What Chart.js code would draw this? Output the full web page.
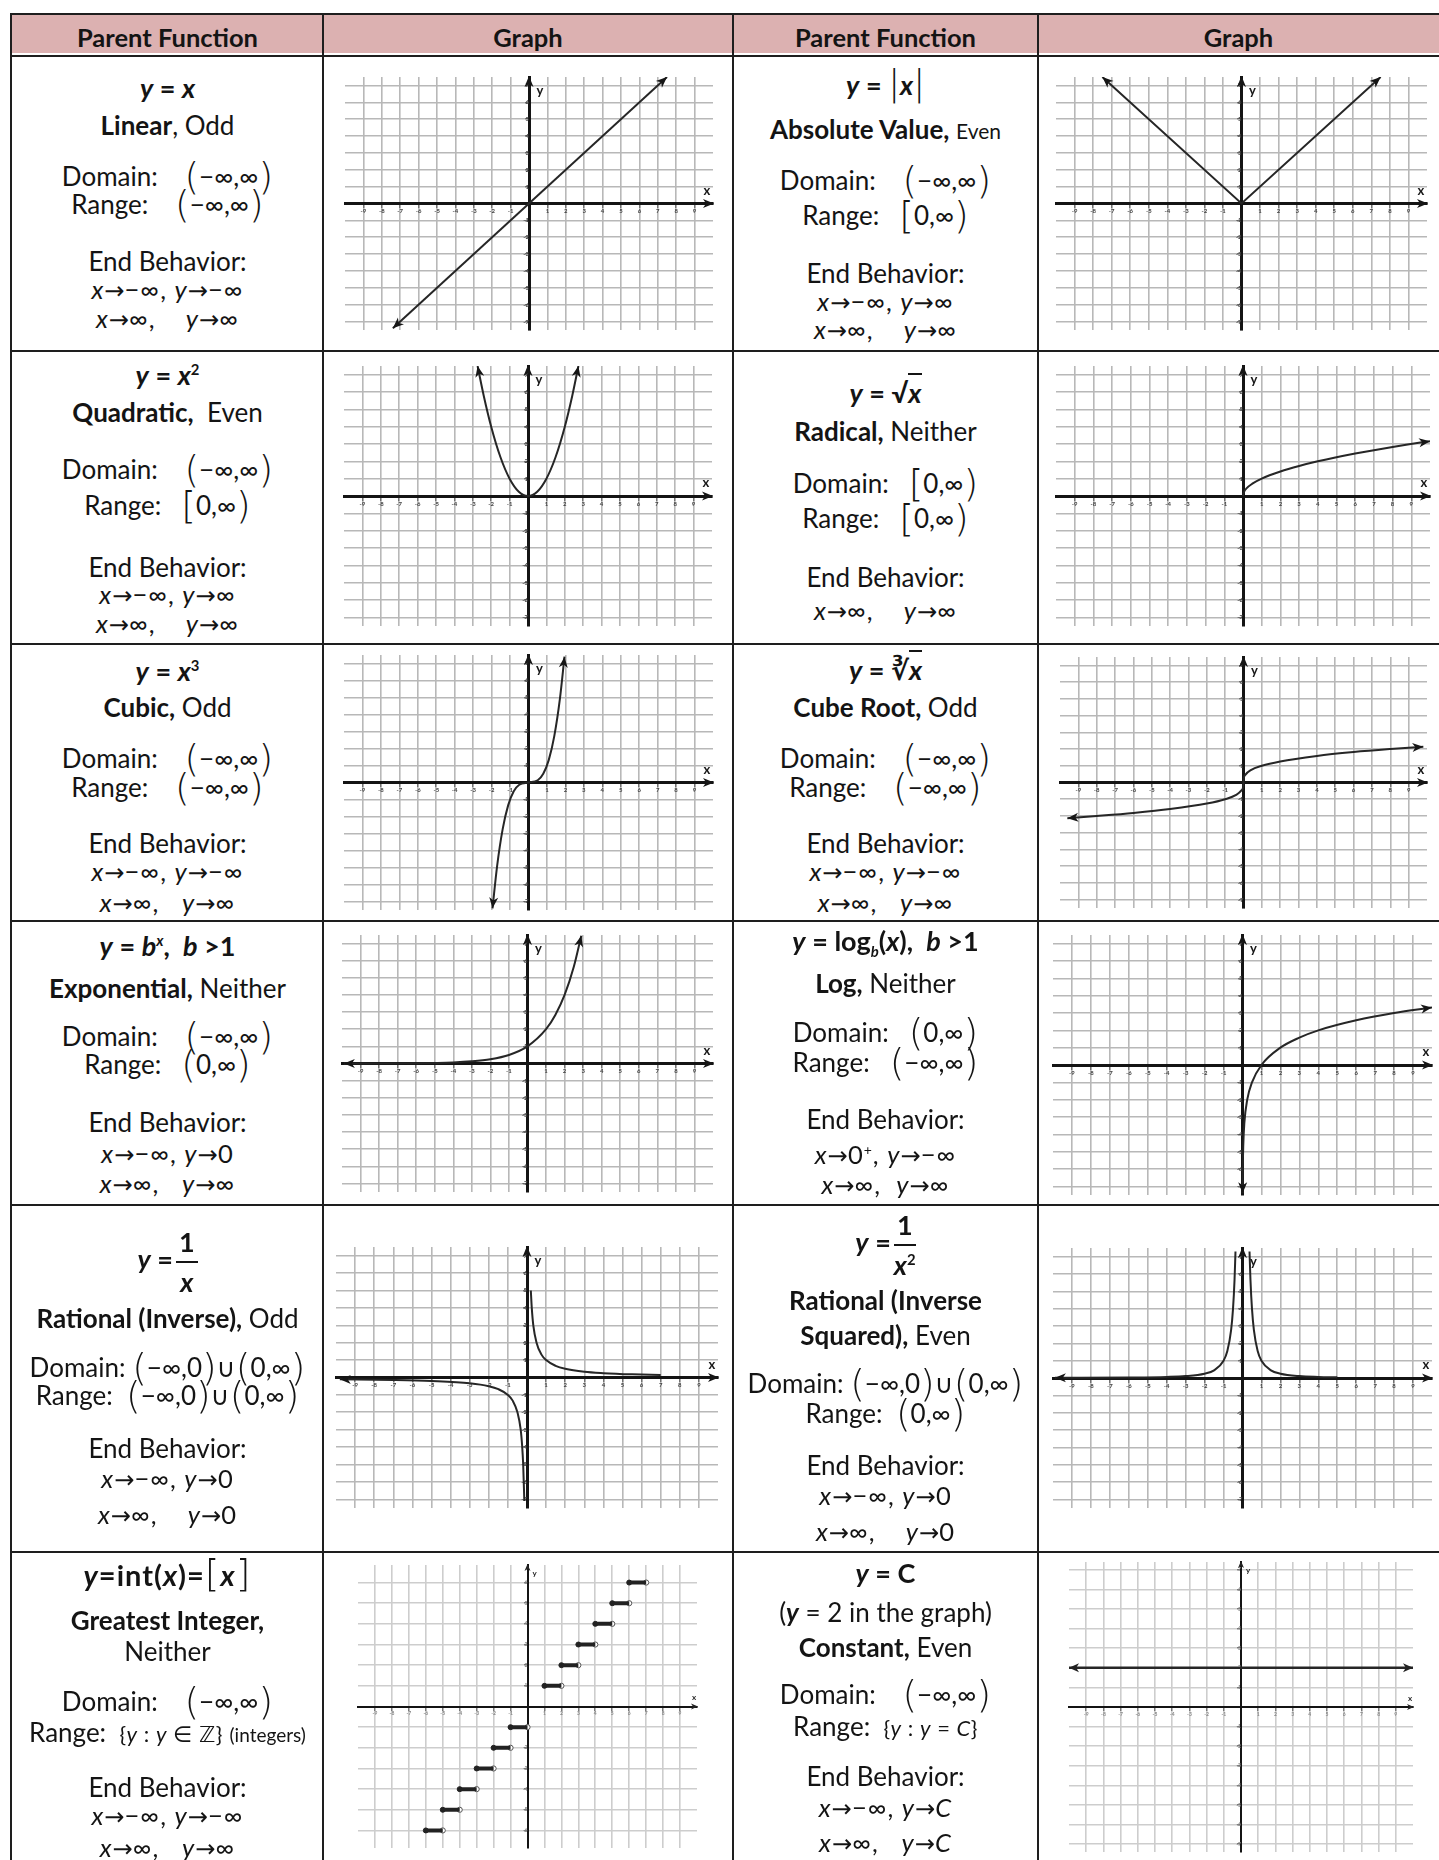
<!DOCTYPE html>
<html><head><meta charset="utf-8">
<script src="https://cdn.jsdelivr.net/npm/chart.js@4.4.1/dist/chart.umd.min.js"></script>
<style>
html,body{margin:0;padding:0;background:#fff;}
body{width:1439px;height:1860px;position:relative;overflow:hidden;font-family:Lato,"Open Sans","DejaVu Sans",sans-serif;color:#141414;}
.hdr{position:absolute;top:15px;height:38px;left:11px;width:1428px;background:#dcb1b1;}
.ht{position:absolute;top:17px;height:40px;line-height:40px;text-align:center;font-weight:bold;font-size:25.5px;z-index:3;}
.hl{position:absolute;background:#1e1e1e;height:2px;left:10px;width:1429px;z-index:5;}
.vl{position:absolute;background:#1e1e1e;width:2px;top:13px;height:1847px;z-index:5;}
.ln{position:absolute;text-align:center;white-space:nowrap;height:34px;line-height:34px;font-size:26px;z-index:3;}
.eq{font-weight:bold;font-size:27px;}
.eq2{font-weight:bold;font-size:29px;letter-spacing:1px;}
.eb{font-size:25.5px;letter-spacing:1px;}
.ar{font-family:"DejaVu Sans",sans-serif;font-size:0.95em;font-style:normal;letter-spacing:0;}
.pp{font-family:"DejaVu Sans",sans-serif;font-weight:200;font-size:1.45em;line-height:0;position:relative;top:0.07em;}
.sm{font-size:21px;}
.sm2{font-size:22px;letter-spacing:0.5px;}
.sm3{font-size:19px;}
.bar{font-weight:300;font-size:1.3em;line-height:0;font-family:"DejaVu Sans",sans-serif;}
.ov{border-top:2px solid #141414;padding-top:1px;}
.frac{display:inline-block;vertical-align:middle;text-align:center;margin-left:3px;}
.fn{display:block;border-bottom:2px solid #141414;line-height:26px;padding:0 3px 6px;}
.fd{display:block;line-height:26px;padding-top:6px;}
sup,sub{font-size:0.55em;line-height:0;}
canvas{position:absolute;z-index:2;}
</style>
</head><body>
<div class="hdr"></div>
<script>
// ---------------- DATA ----------------
const tickX  = [-9,-8,-7,-6,-5,-4,-3,-2,-1,0,1,2,3,4,5,6,7,8,9];
const tickY7 = [-7,-6,-5,-4,-3,-2,-1,0,1,2,3,4,5,6,7];
const tickY6 = [-6,-5,-4,-3,-2,-1,0,1,2,3,4,5,6];

const linearPts = [[-7.4,-7.4],[7.5,7.5]];
const absPts    = [[-7.5,7.5],[0,0],[7.5,7.5]];
const quadPts   = [[-2.74,7.5],[-2.4,5.76],[-2,4],[-1.5,2.25],[-1,1],[-0.5,0.25],[0,0],[0.5,0.25],[1,1],[1.5,2.25],[2,4],[2.4,5.76],[2.74,7.5]];
const sqrtPts   = [[0,0],[0.05,0.22],[0.2,0.45],[0.5,0.71],[1,1],[2,1.41],[3,1.73],[4,2],[6,2.45],[8,2.83],[9.4,3.07],[10,3.16]];
const cubicPts  = [[-1.95,-7.4],[-1.7,-4.9],[-1.4,-2.74],[-1.1,-1.33],[-0.8,-0.51],[-0.5,-0.13],[0,0],[0.5,0.13],[0.8,0.51],[1.1,1.33],[1.4,2.74],[1.7,4.9],[1.95,7.4]];
const cbrtPts   = [[-9.6,-2.13],[-8,-2],[-6,-1.82],[-4,-1.59],[-2,-1.26],[-1,-1],[-0.4,-0.74],[-0.1,-0.46],[-0.02,-0.27],[0,0],[0.02,0.27],[0.1,0.46],[0.4,0.74],[1,1],[2,1.26],[4,1.59],[6,1.82],[8,2],[9.8,2.14]];
const expPts    = [[-9.9,0.002],[-6,0.016],[-4,0.06],[-3,0.125],[-2,0.25],[-1,0.5],[0,1],[1,2],[1.5,2.83],[2,4],[2.5,5.66],[2.9,7.46]];
const logPts    = [[0.006,-7.4],[0.015,-6.06],[0.04,-4.64],[0.1,-3.32],[0.25,-2],[0.5,-1],[1,0],[2,1],[3,1.58],[4,2],[6,2.58],[8,3],[10,3.32]];
const invNegPts = [[-9.8,-0.1],[-7,-0.14],[-5,-0.2],[-3,-0.33],[-2,-0.5],[-1.5,-0.67],[-1,-1],[-0.75,-1.33],[-0.5,-2],[-0.33,-3],[-0.25,-4],[-0.2,-5],[-0.14,-7.1]];
const invPosPts = [[0.2,5],[0.25,4],[0.33,3],[0.5,2],[0.75,1.33],[1,1],[1.5,0.67],[2,0.5],[3,0.33],[4,0.25],[5.5,0.18],[7,0.14]];
const invSqLeft = [[-9.9,0.01],[-6,0.03],[-4,0.0625],[-3,0.11],[-2,0.25],[-1.5,0.44],[-1,1],[-0.8,1.56],[-0.6,2.78],[-0.5,4],[-0.42,5.67],[-0.37,7.3]];
const invSqRight= [[0.37,7.3],[0.42,5.67],[0.5,4],[0.6,2.78],[0.8,1.56],[1,1],[1.5,0.44],[2,0.25],[3,0.11],[4,0.0625],[5,0.04]];
const stepLevels = [-6,-5,-4,-3,-2,-1,1,2,3,4,5,6];
const constPts  = [[-10,2],[10,2]];

// ---------------- TEXT ----------------
const A = '<span class="ar">→</span>';
const P = s => `<span class="pp">${s}</span>`;
const headers = [['Parent Function',12,311],['Graph',323,410],['Parent Function',733,305],['Graph',1038,401]];
const textLines = [
 [0,88,'eq','<i>y</i> = <i>x</i>'],
 [0,125,'','<b>Linear</b>, Odd'],
 [0,176,'',`Domain:&nbsp;&nbsp;&nbsp; ${P('(')}−∞,∞${P(')')}`],
 [0,204,'',`Range:&nbsp;&nbsp;&nbsp; ${P('(')}−∞,∞${P(')')}`],
 [0,261,'','End Behavior:'],
 [0,289,'eb',`<i>x</i>${A}−∞, <i>y</i>${A}−∞`],
 [0,318,'eb',`<i>x</i>${A}∞,&nbsp;&nbsp;&nbsp; <i>y</i>${A}∞`],

 [1,85,'eq','<i>y</i> = <span class="bar">|</span><i>x</i><span class="bar">|</span>'],
 [1,129,'','<b>Absolute Value,</b> <span class="sm">Even</span>'],
 [1,180,'',`Domain:&nbsp;&nbsp;&nbsp; ${P('(')}−∞,∞${P(')')}`],
 [1,215,'',`Range:&nbsp;&nbsp; ${P('[')}0,∞${P(')')}`],
 [1,273,'','End Behavior:'],
 [1,301,'eb',`<i>x</i>${A}−∞, <i>y</i>${A}∞`],
 [1,329,'eb',`<i>x</i>${A}∞,&nbsp;&nbsp;&nbsp; <i>y</i>${A}∞`],

 [0,375,'eq','<i>y</i> = <i>x</i><sup>2</sup>'],
 [0,412,'','<b>Quadratic,</b>&nbsp; Even'],
 [0,469,'',`Domain:&nbsp;&nbsp;&nbsp; ${P('(')}−∞,∞${P(')')}`],
 [0,505,'',`Range:&nbsp;&nbsp; ${P('[')}0,∞${P(')')}`],
 [0,567,'','End Behavior:'],
 [0,594,'eb',`<i>x</i>${A}−∞, <i>y</i>${A}∞`],
 [0,623,'eb',`<i>x</i>${A}∞,&nbsp;&nbsp;&nbsp; <i>y</i>${A}∞`],

 [1,393,'eq','<i>y</i> = √<span class="ov"><i>x</i></span>'],
 [1,431,'','<b>Radical,</b> Neither'],
 [1,483,'',`Domain:&nbsp;&nbsp; ${P('[')}0,∞${P(')')}`],
 [1,518,'',`Range:&nbsp;&nbsp; ${P('[')}0,∞${P(')')}`],
 [1,577,'','End Behavior:'],
 [1,610,'eb',`<i>x</i>${A}∞,&nbsp;&nbsp;&nbsp; <i>y</i>${A}∞`],

 [0,671,'eq','<i>y</i> = <i>x</i><sup>3</sup>'],
 [0,707,'','<b>Cubic,</b> Odd'],
 [0,758,'',`Domain:&nbsp;&nbsp;&nbsp; ${P('(')}−∞,∞${P(')')}`],
 [0,787,'',`Range:&nbsp;&nbsp;&nbsp; ${P('(')}−∞,∞${P(')')}`],
 [0,843,'','End Behavior:'],
 [0,871,'eb',`<i>x</i>${A}−∞, <i>y</i>${A}−∞`],
 [0,902,'eb',`<i>x</i>${A}∞,&nbsp;&nbsp; <i>y</i>${A}∞`],

 [1,670,'eq','<i>y</i> = ∛<span class="ov"><i>x</i></span>'],
 [1,707,'','<b>Cube Root,</b> Odd'],
 [1,758,'',`Domain:&nbsp;&nbsp;&nbsp; ${P('(')}−∞,∞${P(')')}`],
 [1,787,'',`Range:&nbsp;&nbsp;&nbsp; ${P('(')}−∞,∞${P(')')}`],
 [1,843,'','End Behavior:'],
 [1,871,'eb',`<i>x</i>${A}−∞, <i>y</i>${A}−∞`],
 [1,902,'eb',`<i>x</i>${A}∞,&nbsp;&nbsp; <i>y</i>${A}∞`],

 [0,946,'eq','<i>y</i> = <i>b</i><sup><i>x</i></sup>,&nbsp; <i>b</i> &gt;1'],
 [0,988,'','<b>Exponential,</b> Neither'],
 [0,1036,'',`Domain:&nbsp;&nbsp;&nbsp; ${P('(')}−∞,∞${P(')')}`],
 [0,1064,'',`Range:&nbsp;&nbsp; ${P('(')}0,∞${P(')')}`],
 [0,1122,'','End Behavior:'],
 [0,1153,'eb',`<i>x</i>${A}−∞, <i>y</i>${A}0`],
 [0,1183,'eb',`<i>x</i>${A}∞,&nbsp;&nbsp; <i>y</i>${A}∞`],

 [1,941,'eq','<i>y</i> = log<sub><i>b</i></sub>(<i>x</i>),&nbsp; <i>b</i> &gt;1'],
 [1,983,'','<b>Log,</b> Neither'],
 [1,1032,'',`Domain:&nbsp;&nbsp; ${P('(')}0,∞${P(')')}`],
 [1,1062,'',`Range:&nbsp;&nbsp; ${P('(')}−∞,∞${P(')')}`],
 [1,1119,'','End Behavior:'],
 [1,1154,'eb',`<i>x</i>${A}0<sup>+</sup>, <i>y</i>${A}−∞`],
 [1,1184,'eb',`<i>x</i>${A}∞,&nbsp; <i>y</i>${A}∞`],

 [0,1246,'eq','<i>y</i> =<span class="frac"><span class="fn">1</span><span class="fd"><i>x</i></span></span>'],
 [0,1318,'','<b>Rational (Inverse),</b> Odd'],
 [0,1367,'',`Domain: ${P('(')}−∞,0${P(')')}∪${P('(')}0,∞${P(')')}`],
 [0,1395,'',`Range:&nbsp; ${P('(')}−∞,0${P(')')}∪${P('(')}0,∞${P(')')}`],
 [0,1448,'','End Behavior:'],
 [0,1478,'eb',`<i>x</i>${A}−∞, <i>y</i>${A}0`],
 [0,1514,'eb',`<i>x</i>${A}∞,&nbsp;&nbsp;&nbsp; <i>y</i>${A}0`],

 [1,1229,'eq','<i>y</i> =<span class="frac"><span class="fn">1</span><span class="fd"><i>x</i><sup>2</sup></span></span>'],
 [1,1300,'','<b>Rational (Inverse</b>'],
 [1,1335,'','<b>Squared),</b> Even'],
 [1,1383,'',`Domain: ${P('(')}−∞,0${P(')')}∪${P('(')}0,∞${P(')')}`],
 [1,1413,'',`Range:&nbsp; ${P('(')}0,∞${P(')')}`],
 [1,1465,'','End Behavior:'],
 [1,1495,'eb',`<i>x</i>${A}−∞, <i>y</i>${A}0`],
 [1,1531,'eb',`<i>x</i>${A}∞,&nbsp;&nbsp;&nbsp; <i>y</i>${A}0`],

 [0,1575,'eq2','<i>y</i>=int(<i>x</i>)=<span class="bar">[</span><i>x</i><span class="bar">]</span>'],
 [0,1620,'','<b>Greatest Integer,</b>'],
 [0,1651,'','Neither'],
 [0,1701,'',`Domain:&nbsp;&nbsp;&nbsp; ${P('(')}−∞,∞${P(')')}`],
 [0,1732,'',`Range:&nbsp; <span class="sm2">{<i>y</i> : <i>y</i> ∈ ℤ}</span> <span class="sm3">(integers)</span>`],
 [0,1787,'','End Behavior:'],
 [0,1815,'eb',`<i>x</i>${A}−∞, <i>y</i>${A}−∞`],
 [0,1847,'eb',`<i>x</i>${A}∞,&nbsp;&nbsp; <i>y</i>${A}∞`],

 [1,1573,'eq','<i>y</i> = C'],
 [1,1612,'','(<b><i>y</i></b> = 2 in the graph)'],
 [1,1647,'','<b>Constant,</b> Even'],
 [1,1694,'',`Domain:&nbsp;&nbsp;&nbsp; ${P('(')}−∞,∞${P(')')}`],
 [1,1726,'',`Range:&nbsp; <span class="sm2">{<i>y</i> : <i>y</i> = <i>C</i>}</span>`],
 [1,1776,'','End Behavior:'],
 [1,1807,'eb',`<i>x</i>${A}−∞, <i>y</i>${A}<i>C</i>`],
 [1,1842,'eb',`<i>x</i>${A}∞,&nbsp;&nbsp; <i>y</i>${A}<i>C</i>`]
];

const COLS = [[12,311],[733,305]];
headers.forEach(([t,l,w]) => {
  const d = document.createElement('div'); d.className='ht';
  d.style.left=l+'px'; d.style.width=w+'px'; d.textContent=t; document.body.appendChild(d);
});
textLines.forEach(([c,cy,cls,html]) => {
  const d = document.createElement('div'); d.className='ln '+cls;
  d.style.left=COLS[c][0]+'px'; d.style.width=COLS[c][1]+'px'; d.style.top=(cy-17)+'px';
  d.innerHTML=html; document.body.appendChild(d);
});
[13,55,350,643,920,1204,1551].forEach(y => {
  const d=document.createElement('div'); d.className='hl'; d.style.top=y+'px'; document.body.appendChild(d);
});
[10,322,732,1037].forEach(x => {
  const d=document.createElement('div'); d.className='vl'; d.style.left=x+'px'; document.body.appendChild(d);
});

// ---------------- CHARTS ----------------
function head(ctx,x,y,ang,len,hw){
  ctx.save(); ctx.translate(x,y); ctx.rotate(ang);
  ctx.beginPath(); ctx.moveTo(0,0); ctx.lineTo(-len,-hw); ctx.lineTo(-len*0.72,0); ctx.lineTo(-len,hw);
  ctx.closePath(); ctx.fill(); ctx.restore();
}
const axisDeco = {
  id:'axisDeco',
  afterDatasetsDraw(chart,args,o){
    const {ctx, chartArea:a, scales:{x,y}} = chart;
    const x0 = x.getPixelForValue(0), y0 = y.getPixelForValue(0);
    ctx.save(); ctx.fillStyle=o.color;
    head(ctx,a.right+1,y0,0,o.al,o.aw);
    head(ctx,x0,a.top-1,-Math.PI/2,o.al,o.aw);
    ctx.font=o.font; ctx.textAlign='center'; ctx.textBaseline='middle';
    ctx.fillText('x',a.right-o.xdx,y0-o.xdy);
    ctx.fillText('y',x0+o.ydx,a.top+o.ydy);
    chart.data.datasets.forEach((ds,i)=>{
      const pts = chart.getDatasetMeta(i).data;
      if (pts.length<2) return;
      if (ds.arrowEnd){const p=pts[pts.length-1],q=pts[pts.length-2]; head(ctx,p.x,p.y,Math.atan2(p.y-q.y,p.x-q.x),o.cl,o.cw);}
      if (ds.arrowStart){const p=pts[0],q=pts[1]; head(ctx,p.x,p.y,Math.atan2(p.y-q.y,p.x-q.x),o.cl,o.cw);}
    });
    ctx.restore();
  }
};
const toXY = arr => arr.map(([x,y]) => ({x,y}));
function curve(pts, start, end, smooth){
  return {data:toXY(pts), borderColor:'#262626', borderWidth:2, pointRadius:0, fill:false,
    cubicInterpolationMode: smooth ? 'monotone' : 'default', tension:0, arrowStart:start, arrowEnd:end};
}
const stepSeg = [];
stepLevels.forEach(n => { stepSeg.push({x:n,y:n},{x:n+1,y:n},{x:n+1,y:null}); });
const stepDatasets = [
  {data:stepSeg, borderColor:'#222', borderWidth:4, pointRadius:0, spanGaps:false},
  {data:stepLevels.map(n=>({x:n,y:n})), showLine:false, pointRadius:2.5, pointBackgroundColor:'#222', pointBorderColor:'#222'},
  {data:stepLevels.map(n=>({x:n+1,y:n})), showLine:false, pointRadius:2.6, pointBackgroundColor:'#fff', pointBorderColor:'#555', pointBorderWidth:1}
];

const bigDeco = {color:'#161616', al:11, aw:4.5, cl:11, cw:4.5, font:'bold 13px Lato, sans-serif', xdx:6, xdy:13, ydx:11, ydy:14};
const smallDeco = {color:'#222', al:7, aw:3, cl:10, cw:4.5, font:'bold 8px Lato, sans-serif', xdx:3, xdy:9, ydx:7, ydy:8};

const graphs = [
  {area:[345,77,713,330], yr:7.5, yt:tickY7, sets:[curve(linearPts,true,true,false)]},
  {area:[1056,77,1427,330], yr:7.5, yt:tickY7, sets:[curve(absPts,true,true,false)]},
  {area:[344,366,712,626], yr:7.5, yt:tickY7, sets:[curve(quadPts,true,true,true)]},
  {area:[1056,366,1430,626], yr:7.5, yt:tickY7, sets:[curve(sqrtPts,false,true,true)]},
  {area:[344,655,713,910], yr:7.5, yt:tickY7, sets:[curve(cubicPts,true,true,true)]},
  {area:[1060,657,1427,908], yr:7.5, yt:tickY7, sets:[curve(cbrtPts,true,true,true)]},
  {area:[342,935,713,1192], yr:7.5, yt:tickY7, sets:[curve(expPts,true,true,true)]},
  {area:[1053,935,1432,1195], yr:7.5, yt:tickY7, sets:[curve(logPts,true,true,true)]},
  {area:[336,1247,718,1508], yr:7.5, yt:tickY7, sets:[curve(invNegPts,true,false,true), curve(invPosPts,false,false,true)]},
  {area:[1053,1248,1432,1508], yr:7.5, yt:tickY7, sets:[curve(invSqLeft,true,false,true), curve(invSqRight,false,false,true)]},
  {area:[358,1565,697,1848], yr:6.85, yt:tickY6, sets:stepDatasets, small:true},
  {area:[1069,1562,1413,1852], yr:7.4, yt:tickY7, sets:[Object.assign(curve(constPts,true,true,false),{borderWidth:2.5})], small:true}
];

graphs.forEach(g => {
  const [L,T,R,B] = g.area, pad = 16;
  const cv = document.createElement('canvas');
  cv.width = R-L+2*pad; cv.height = B-T+2*pad;
  cv.style.left=(L-pad)+'px'; cv.style.top=(T-pad)+'px';
  cv.style.width=cv.width+'px'; cv.style.height=cv.height+'px';
  document.body.appendChild(cv);
  const sm = !!g.small;
  const gridC = sm ? '#cdcdcd' : '#b8b8b8';
  const tickFont = {size: sm ? 5 : 6, family:'Lato, sans-serif', weight:'bold'};
  const tickCol = sm ? '#888' : '#444';
  new Chart(cv, {
    type:'line',
    data:{datasets:g.sets},
    plugins:[axisDeco],
    options:{
      responsive:false, animation:false, devicePixelRatio:1,
      layout:{padding:pad},
      plugins:{legend:{display:false}, tooltip:{enabled:false}, axisDeco: sm ? smallDeco : bigDeco},
      scales:{
        x:{type:'linear', min:-10, max:10, position:{y:0},
           afterBuildTicks:s=>{s.ticks=tickX.map(v=>({value:v}));},
           grid:{color:gridC, lineWidth:1.6, drawTicks:true, tickLength:3, tickColor:'#555', tickWidth:1},
           border:{display:true, color:'#141414', width: sm ? 2 : 3},
           ticks:{autoSkip:false, maxRotation:0, minRotation:0, font:tickFont, color:tickCol, padding:1,
                  callback:v => v===0 ? '' : String(v)}},
        y:{type:'linear', min:-g.yr, max:g.yr, position:{x:0},
           afterBuildTicks:s=>{s.ticks=g.yt.map(v=>({value:v}));},
           grid:{color:gridC, lineWidth:1.6, drawTicks:true, tickLength:3, tickColor:'#555', tickWidth:1},
           border:{display:true, color:'#141414', width: sm ? 2 : 3},
           ticks:{autoSkip:false, font:tickFont, color:tickCol, padding:1,
                  callback:v => v===0 ? '' : String(v)}}
      }
    }
  });
});
</script>
</body></html>
